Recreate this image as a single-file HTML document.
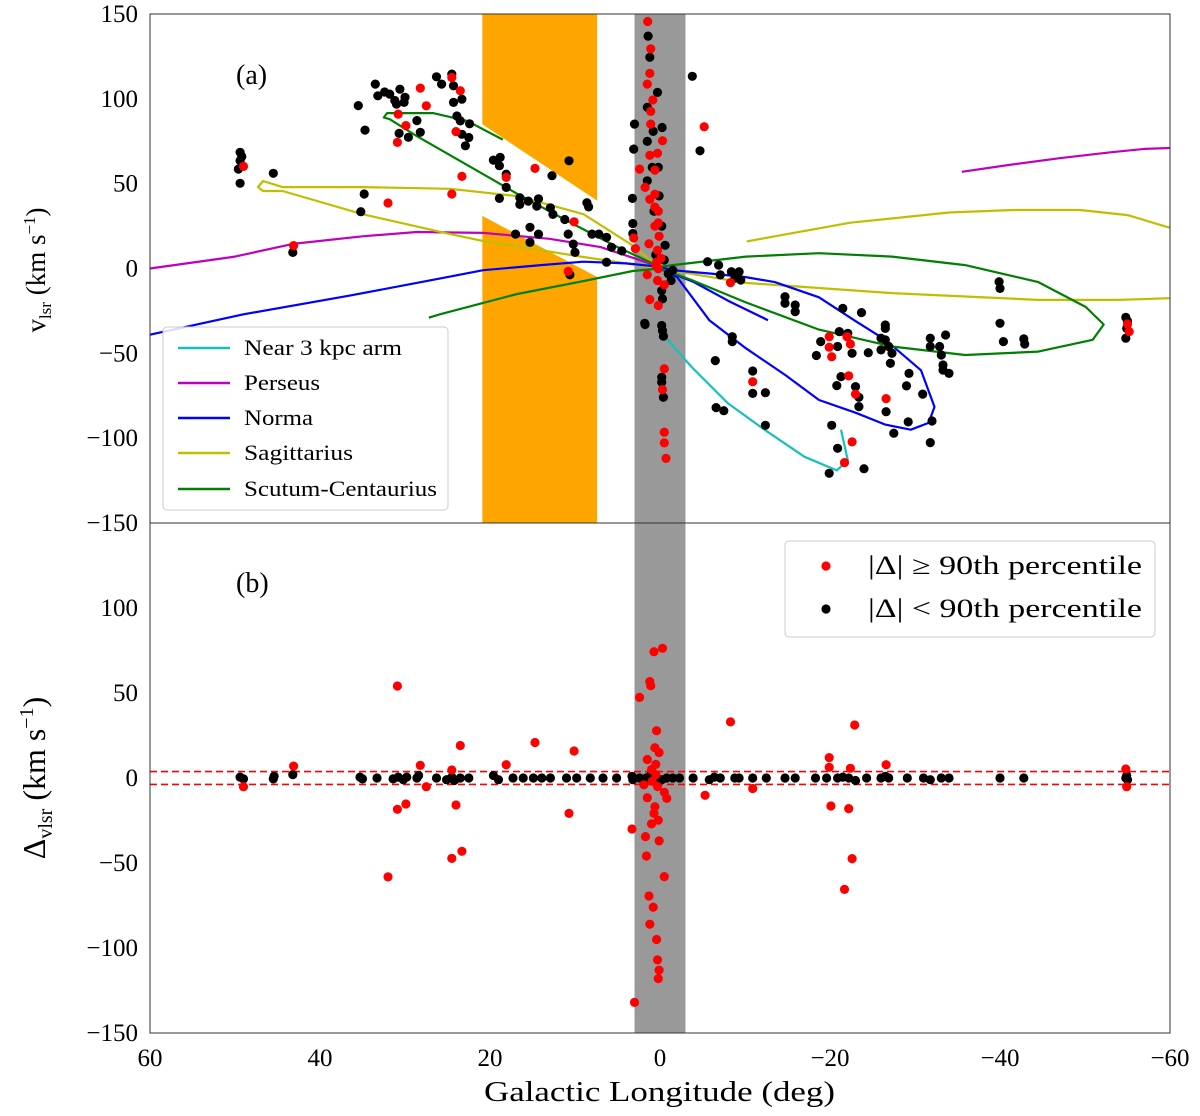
<!DOCTYPE html>
<html><head><meta charset="utf-8">
<style>
html,body{margin:0;padding:0;background:#fff;}
svg{display:block;font-family:"Liberation Serif","DejaVu Serif",serif;}
</style></head>
<body>
<svg id="chart" width="1200" height="1116" viewBox="0 0 1200 1116" xmlns="http://www.w3.org/2000/svg">
<g id="bg"></g>
<g id="arms"></g>
<g id="ptsA"></g>
<g id="ptsB"></g>
<g id="axes"></g>
</svg>
<script>
// ---------- data ----------
const xTicks = [60, 40, 20, 0, -20, -40, -60];
const yTicksA = [150, 100, 50, 0, -50, -100, -150];
const yTicksB = [100, 50, 0, -50, -100, -150];
const centralBand = [3, -3];
const orangeTop = [[20.9,150],[7.4,150],[7.4,40],[18.2,76],[20.9,85]];
const orangeBot = [[20.9,31],[7.4,-5],[7.4,-150],[20.9,-150]];
const threshold = [3.8, -3.8];

const armNames = ["Near 3 kpc arm","Perseus","Norma","Sagittarius","Scutum-Centaurius"];
const armColors = ["#17bfbf","#bf00bf","#0000ff","#bfbf00","#008000"];
const near3kpc = [[0,-33],[-0.2,-38],[-3.7,-58],[-8,-79.5],[-12.3,-95],[-17,-111],[-20.8,-119],[-22.1,-113],[-21.3,-95]];
const perseus1 = [[60,0],[50,7],[43.2,14.5],[35,19],[28.6,21.5],[20.8,21],[13,17.5],[7,12.6],[1.2,3],[0,1]];
const perseus2 = [[-35.5,57],[-41,61],[-47,65],[-53,68.5],[-57,70.5],[-60,71]];
const norma = [[60,-39],[49,-27],[36.5,-16],[26,-6],[20.8,-1],[14,2],[9,4],[4,3],[0,1],[-1.5,-1],[-6,-3],[-10,-5],[-13.5,-8],[-18.7,-17],[-23,-31],[-26.5,-42],[-30.7,-60],[-32.3,-81.6],[-31.6,-91],[-29.5,-95],[-26.5,-92],[-23,-85],[-18.7,-77.5],[-14.8,-63],[-10.1,-47],[-5.8,-30.5],[-2,-5],[0,0],[-4,-8],[-8,-19],[-12.7,-30.5]];
const sagittarius1 = [[0,0],[3.5,14.5],[9,32],[16.8,42.7],[24.7,47],[35,48],[44.4,48],[46.7,51.6],[47.3,48],[46.7,45.7],[44.4,45.7],[35,32],[24.7,20.3],[20.8,16.2],[9,6.8],[0,0],[-10.1,-8.5],[-27.3,-14.5],[-44.5,-18.5],[-54,-18.5],[-60,-17.5]];
const sagittarius2 = [[-10.2,16],[-22.4,27],[-34,33],[-41.5,34.5],[-49.4,34.5],[-55,31.5],[-60,24]];
const scutum = [[18.5,76],[22.7,87],[26.7,91.6],[32.1,91.6],[32.5,89],[31.8,88],[28.6,78],[20.8,55.6],[16.8,44],[10.9,28],[5,12.6],[0,1],[-1.5,2],[-10.1,7],[-18.7,9],[-27.3,7],[-35.9,2],[-44.5,-8],[-50.1,-22.7],[-52.2,-33],[-50.9,-42],[-44.5,-49],[-35.9,-51],[-27.3,-46],[-18.7,-36],[-10.1,-20],[-3.7,-6.8],[0,0],[3.2,-1.5],[9,-7.4],[16.8,-15],[25.9,-27],[27.2,-29]];

const blackA = [[49.4,68.5],[49.4,63.5],[49.6,58.6],[49.4,50.2],[49.2,66],[45.5,56.1],[43.2,9.5],[35.5,96],[34.7,81.6],[35.2,33.5],[34.8,43.9],[33.5,108.7],[33.2,101.8],[31.8,102.8],[30.6,105.7],[31,96.9],[30.1,97.9],[30,100.9],[30.7,79.6],[29.6,77.3],[28.6,87.2],[28.2,80.3],[32.4,104],[31.2,99],
[26.3,113],[25.7,108.7],[24.5,114.6],[24.3,107.7],[23.3,99.8],[24.3,97.9],[23.9,89.9],[23.5,87],[23.3,79.1],[22.5,77.2],[22.9,72.3],[22.4,85.3],
[19.6,63.9],[18.8,65.5],[18.9,60.6],[18.1,55.6],[18.1,47.8],[18.9,41.3],[16.5,41.7],[16.5,37.8],[15.5,39.7],[14.3,41.1],[14.5,36.8],[12.7,54.7],[10.7,63.5],[12.9,35.8],[12.6,31.9],[11.2,28.9],[17,20.3],[15.3,24.3],[14.3,20.3],[15.3,15.4],[10.8,20.3],[10.2,14.4],[10,9.5],[8.6,38.8],[8.4,36.3],[8,20.3],[7.2,20.3],[6.3,18.4],[5.7,12.5],[6.3,3.7],[4.5,10.4],[10.6,-3.7],
[1.4,137],[1.2,124.5],[0.3,103.8],[1.5,95],[3,85.1],[-0.25,83.1],[0.8,80.8],[1.5,74.9],[3.1,70.4],[0.9,59.6],[0.2,59.6],[1.5,51.7],[0.1,42.8],[3.25,41.3],[0.7,33.8],[-0.2,25],[3.2,26.5],[3.2,20.6],[-0.6,13.7],[-0.98,-3.1],[-1.3,-7.1],[-0.2,-13],[-0.3,-17.9],[1.75,-33],[-0.2,-33.6],[-0.3,-36.6],[-0.4,-39.9],[-0.2,-64.1],[-0.2,-67.1],[-0.4,-75.9],[-3.8,113.3],[-4.7,69.4],[1.8,-32.3],[-0.5,5],[0.5,8],[-1.5,-1],
[-5.6,4],[-6.9,2],[-7.1,-3.8],[-8.4,-1.9],[-9.3,-1.9],[-8.8,-5.8],[-9.5,-6.8],[-14.7,-16.6],[-14.7,-20.5],[-15.9,-21.5],[-15.9,-25.4],[-21.5,-23.5],[-23.7,-26],[-26.5,-33.3],[-26.5,-35.3],[-26,-41.1],[-26.5,-42.1],[-26.9,-46],[-27.3,-50],[-27.1,-55.9],[-26,-48],[-18.9,-43.1],[-18.4,-51.3],[-21.1,-37.2],[-20.9,-46],[-22.1,-38.2],[-22.6,-50],[-24.5,-49.6],[-31.8,-41.1],[-31.8,-46],[-33.6,-39.2],[-32.9,-46],[-33.1,-51],[-33.3,-56.9],[-33.3,-59.8],[-34,-61.8],[-39.9,-7.8],[-40,-11.7],[-40,-32.3],[-40.4,-43.1],[-42.8,-41.5],[-42.9,-44.5],[-54.8,-28.8],[-54.8,-41.1],[-54.9,-35.3],[-55,-31],
[-6.5,-54.3],[-6.6,-82],[-7.5,-83.8],[-8.5,-40.2],[-8.5,-43.1],[-10.9,-60.4],[-10.9,-73.6],[-12.4,-73.2],[-12.4,-92.4],[-21.3,-63.7],[-20.8,-69],[-23,-69.6],[-23.4,-75.9],[-23.4,-81.4],[-26.6,-84.4],[-29,-69.2],[-29.3,-61.8],[-30.9,-74],[-32,-89.9],[-29.2,-90.4],[-27.5,-97.1],[-31.8,-102.6],[-20.2,-92.4],[-20.9,-106],[-19.9,-120.7],[-24,-118]];
const redA = [[49,60.2],[43.1,13.5],[30.8,91],[29.9,84.2],[30.9,74.3],[28.2,106.3],[27.5,95.9],[24.5,112.6],[23.5,104.8],[24,80.7],[23.3,54.3],[24.5,43.9],[32,38.6],[18.1,53.7],[14.7,59],[10.1,27.5],[10.8,-1.7],
[1.45,145.6],[1.1,129.5],[1.2,115],[1.5,108.7],[0.85,99.3],[1.1,92.6],[1.1,85.1],[-0.3,75.3],[0.3,67.9],[1.2,66.7],[2.4,58.6],[0.6,58],[1.75,47.8],[0.6,43.8],[1.2,40.7],[0.6,36.2],[0.2,33.8],[0.2,26.9],[0.6,25],[0.1,19],[3.1,18],[0.3,10.8],[1.3,14.6],[2.9,11.7],[0.4,3.7],[0.2,-0.2],[1.5,-3.7],[0.3,-7.1],[-0.5,-9.6],[1.2,-18.3],[0.2,-21.8],[-0.5,-59.2],[-0.3,-71.4],[-0.5,-96.5],[-0.5,-102.8],[-0.7,-111.9],[-5.2,83.6],[0.5,2],[-0.1,6],
[-8.3,-8.3],[-19.9,-40.2],[-19.9,-46.4],[-20.2,-52],[-22,-40.2],[-22.4,-44.5],[-10.9,-66.7],[-22.2,-63.3],[-23,-74],[-26.6,-76.7],[-22.6,-102.2],[-21.7,-114.4],[-55,-32.7],[-55.2,-37.2]];

const blackB = [[49.4,0.5],[49,-0.5],[45.5,-0.5],[45.4,1],[43.2,2],[35.3,0.5],[35,-0.5],[33.3,0],[31.4,-0.5],[30.8,0.5],[30.2,-1],[29.8,0.5],[28.6,0],[28.4,1.5],[26.3,0],[25.1,-1],[24.5,0.5],[24.2,-1.5],[23.5,0],[22.5,0],[19.6,1.5],[19,-1],[17.3,0],[16.1,0],[14.9,0],[13.9,0],[12.9,0],[11,0],[9.8,0],[8.2,0],[6.7,0],[5.1,0],[3.3,1],[3.2,-1],[2.4,0],[1.6,0],[1.2,1],[0.4,0],[-0.2,-1],[-0.8,0],[-1.5,0],[-2.3,0],
[-3.9,0],[-5.8,-1],[-6.4,0.5],[-7.1,0],[-8.8,0],[-9.3,0],[-10.9,0],[-12.5,0],[-14.7,0],[-15.9,0],[-18.3,0],[-19.6,0],[-20.9,0],[-21.5,0.5],[-22.2,0],[-23,-1.5],[-24.3,0],[-26,0],[-26.5,1],[-26.9,0],[-29.1,0],[-31,0],[-31.8,-1],[-33.1,0],[-34,0],[-40,0],[-42.8,0],[-54.8,0],[-54.9,1.5],[-55,-1]];
const redB = [[30.9,54.1],[23.5,19.1],[14.7,20.9],[10.1,15.9],[43.1,7],[28.2,7.4],[24.5,4.7],[18.1,7.8],[49,-5.1],[27.5,-5.1],[30.9,-18.4],[29.9,-15.3],[24,-15.9],[10.7,-20.8],[23.3,-43.1],[24.5,-47.3],[32,-58.2],
[0.7,74.3],[-0.3,76.3],[1.2,56.7],[1.1,54.3],[2.4,47.4],[0.4,27.8],[0.6,17.8],[0.1,15],[1.5,10.9],[0.5,8],[1,5],[-0.5,-8.4],[1.5,-11.6],[0.6,-16.9],[0.7,-20.8],[0.2,-24.8],[3.3,-30],[1.7,-34.5],[1.6,-45.9],[-0.5,-58],[1.3,-69.4],[0.8,-76],[1.2,-86],[0.4,-95],[0.3,-107],[0.1,-113],[0.2,-118],[3,-132],[0.9,-2],[0.3,-5],[-0.8,-12],[1,-27],[0.1,-37],[1.9,-4],[0.5,2],
[-8.3,33],[-5.3,-10.2],[-10.9,-6.2],[-19.9,12],[-19.9,6.3],[-22.4,5.7],[-22.9,31.2],[-26.6,7.8],[-20.1,-16.5],[-22.2,-18],[-22.6,-47.4],[-21.7,-65.5],[-54.8,5.3],[-54.9,-5.1]];

// ---------- scales ----------
const X0 = 150, X1 = 1170, YA0 = 14, YA1 = 523, YB0 = 523, YB1 = 1033;
function xs(l){ return X0 + (60 - l) / 120 * (X1 - X0); }
function ya(v){ return YA0 + (150 - v) / 300 * (YA1 - YA0); }
function yb(v){ return YB0 + (150 - v) / 300 * (YB1 - YB0); }

const NS = "http://www.w3.org/2000/svg";
function mk(tag, parent, attrs){
  const e = document.createElementNS(NS, tag);
  for (const k in attrs) e.setAttribute(k, attrs[k]);
  parent.appendChild(e);
  return e;
}
const bg = document.getElementById('bg');
const arms = document.getElementById('arms');
const ptsA = document.getElementById('ptsA');
const ptsB = document.getElementById('ptsB');
const axes = document.getElementById('axes');

[orangeTop, orangeBot].forEach((poly, i) => {
  const p = mk('polygon', bg, {points: poly.map(q => xs(q[0]) + ',' + ya(q[1])).join(' '), fill: '#ffa500'});
  
  
});
[[YA0, YA1], [YB0, YB1]].forEach((r, i) => {
  const g = mk('rect', bg, {x: xs(centralBand[0]), y: r[0], width: xs(centralBand[1]) - xs(centralBand[0]), height: r[1] - r[0], fill: '#999999'});
  
  
});

function line(pts, color, name){
  const p = mk('polyline', arms, {points: pts.map(q => xs(q[0]).toFixed(1) + ',' + ya(q[1]).toFixed(1)).join(' '), fill: 'none', stroke: color, 'stroke-width': 2.2, 'stroke-linejoin': 'round'});
  
  
}
line(perseus1, armColors[1], 'perseus-arm');
line(perseus2, armColors[1], 'perseus-arm-far');
line(sagittarius1, armColors[3], 'sagittarius-arm');
line(sagittarius2, armColors[3], 'sagittarius-arm-far');
line(norma, armColors[2], 'norma-arm');
line(scutum, armColors[4], 'scutum-centaurius-arm');
line(near3kpc, armColors[0], 'near-3kpc-arm');

function dots(arr, parent, yfn, color, name){
  arr.forEach(q => {
    const c = mk('circle', parent, {cx: xs(q[0]).toFixed(1), cy: yfn(q[1]).toFixed(1), r: 4.6, fill: color});
    
    
  });
}
dots(blackA, ptsA, ya, '#000', 'source-point');
dots(redA, ptsA, ya, '#ff0000', 'outlier-point');

threshold.forEach(t => {
  const l = mk('line', ptsB, {x1: X0, x2: X1, y1: yb(t), y2: yb(t), stroke: '#ff0000', 'stroke-width': 1.6, 'stroke-dasharray': '7,4'});
  
  
});
dots(blackB, ptsB, yb, '#000', 'delta-point');
dots(redB, ptsB, yb, '#ff0000', 'delta-outlier-point');

[[YA0, YA1, 'panel-a-frame'], [YB0, YB1, 'panel-b-frame']].forEach(f => {
  const r = mk('rect', axes, {x: X0, y: f[0], width: X1 - X0, height: f[1] - f[0], fill: 'none', stroke: '#333', 'stroke-width': 1});
  
  
});
function fmt(v){ return v < 0 ? '\u2212' + Math.abs(v) : String(v); }
yTicksA.forEach(v => {
  const t = mk('text', axes, {x: 138, y: ya(v) + 8, 'text-anchor': 'end', 'font-size': 25});
  t.textContent = fmt(v);
  
  
});
yTicksB.forEach(v => {
  const t = mk('text', axes, {x: 138, y: yb(v) + 8, 'text-anchor': 'end', 'font-size': 25});
  t.textContent = fmt(v);
  
  
});
xTicks.forEach(v => {
  const t = mk('text', axes, {x: xs(v), y: 1066, 'text-anchor': 'middle', 'font-size': 25});
  t.textContent = fmt(v);
  
  
});
</script>
<svg style="position:absolute;left:0;top:0" width="1200" height="1116">
  <text x="236" y="84" font-size="28" font-family="Liberation Serif, serif">(a)</text>
  <text x="236" y="592" font-size="28" font-family="Liberation Serif, serif">(b)</text>
  <text x="484" y="1101" font-size="28" textLength="351" lengthAdjust="spacingAndGlyphs" font-family="Liberation Serif, serif">Galactic Longitude (deg)</text>
  <text transform="translate(45,270) rotate(-90)" font-size="27" text-anchor="middle" font-family="Liberation Serif, serif">v<tspan font-size="17" dy="6">lsr</tspan><tspan dy="-6"> (km s</tspan><tspan font-size="17" dy="-10">−1</tspan><tspan dy="10">)</tspan></text>
  <text transform="translate(45,778) rotate(-90)" font-size="32" text-anchor="middle" font-family="Liberation Serif, serif">Δ<tspan font-size="20" dy="7">vlsr</tspan><tspan dy="-7"> (km s</tspan><tspan font-size="20" dy="-12">−1</tspan><tspan dy="12">)</tspan></text>
  <g>
    <rect x="163" y="327" width="285" height="183" rx="4" fill="#fff" fill-opacity="0.85" stroke="#ccc"/>
    <g font-size="22" font-family="Liberation Serif, serif">
      <line x1="178" x2="230" y1="348" y2="348" stroke="#17bfbf" stroke-width="2.5"/>
      <text x="244" y="355" textLength="158" lengthAdjust="spacingAndGlyphs">Near 3 kpc arm</text>
      <line x1="178" x2="230" y1="383" y2="383" stroke="#bf00bf" stroke-width="2.5"/>
      <text x="244" y="390" textLength="76" lengthAdjust="spacingAndGlyphs">Perseus</text>
      <line x1="178" x2="230" y1="418" y2="418" stroke="#0000ff" stroke-width="2.5"/>
      <text x="244" y="425" textLength="69" lengthAdjust="spacingAndGlyphs">Norma</text>
      <line x1="178" x2="230" y1="453" y2="453" stroke="#bfbf00" stroke-width="2.5"/>
      <text x="244" y="460" textLength="109" lengthAdjust="spacingAndGlyphs">Sagittarius</text>
      <line x1="178" x2="230" y1="489" y2="489" stroke="#008000" stroke-width="2.5"/>
      <text x="244" y="496" textLength="193" lengthAdjust="spacingAndGlyphs">Scutum-Centaurius</text>
    </g>
  </g>
  <g>
    <rect x="785" y="541" width="370" height="96" rx="4" fill="#fff" fill-opacity="0.85" stroke="#ccc"/>
    <circle cx="826" cy="566" r="4.6" fill="#ff0000"/>
    <text x="868" y="574" font-size="26" textLength="274" lengthAdjust="spacingAndGlyphs" font-family="Liberation Serif, serif">|Δ| ≥ 90th percentile</text>
    <circle cx="826" cy="609" r="4.6" fill="#000"/>
    <text x="868" y="617" font-size="26" textLength="274" lengthAdjust="spacingAndGlyphs" font-family="Liberation Serif, serif">|Δ| &lt; 90th percentile</text>
  </g>
</svg>
</body></html>
